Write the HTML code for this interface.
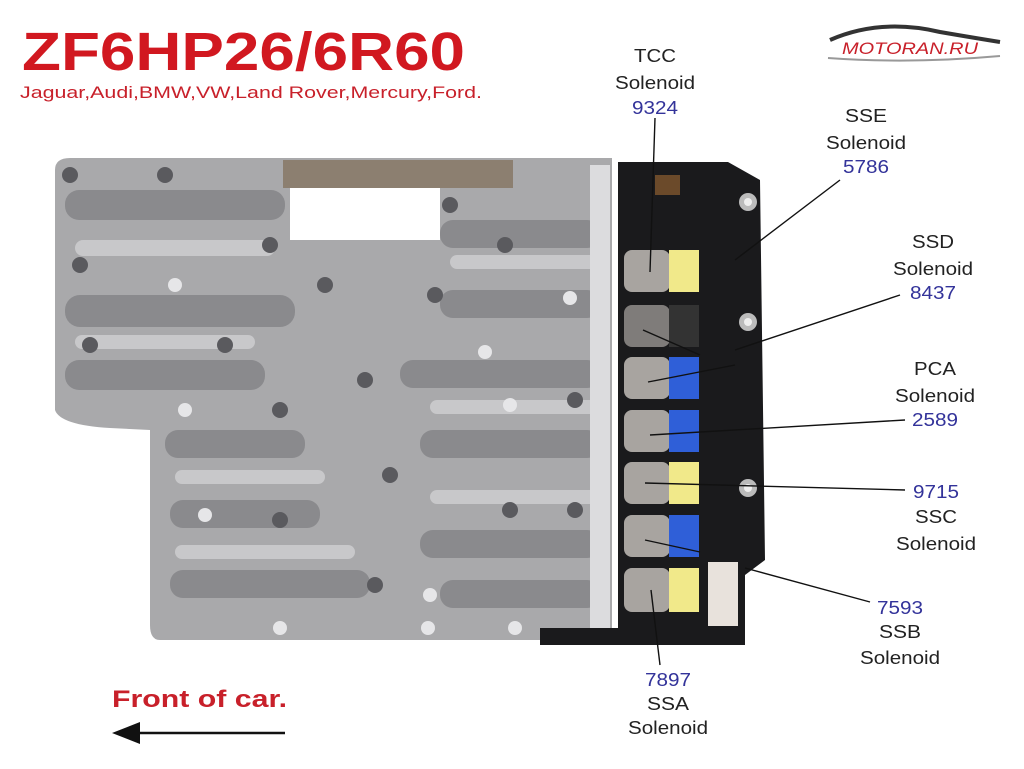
<!DOCTYPE html>
<html><head><meta charset="utf-8"><style>
html,body{margin:0;padding:0;background:#fff}
svg{display:block}
</style></head><body>
<svg width="1024" height="769" viewBox="0 0 1024 769" xmlns="http://www.w3.org/2000/svg" font-family="'Liberation Sans', Arial, Helvetica, sans-serif">
<rect width="1024" height="769" fill="#fff"/>
<text x="22" y="70" font-size="54" font-weight="bold" fill="#d11820" textLength="443" lengthAdjust="spacingAndGlyphs">ZF6HP26/6R60</text>
<text x="20" y="98" font-size="17" fill="#c8202a" textLength="462" lengthAdjust="spacingAndGlyphs">Jaguar,Audi,BMW,VW,Land Rover,Mercury,Ford.</text>
<path d="M830 40 Q880 18 940 32 Q975 38 1000 42" stroke="#333" stroke-width="4" fill="none"/>
<path d="M828 58 Q910 64 1000 56" stroke="#999" stroke-width="2" fill="none"/>
<text x="842" y="54" font-size="17" font-style="italic" fill="#c8202a" textLength="136" lengthAdjust="spacingAndGlyphs">MOTORAN.RU</text>
<path d="M55 170 Q55 158 70 158 L612 158 L612 640 L160 640 Q150 640 150 625 L150 430 L110 428 Q60 425 55 410 Z" fill="#a9a9ab"/>
<path d="M290 172 L440 172 L440 240 L290 240 Z" fill="#fff"/>
<rect x="283" y="160" width="230" height="28" fill="#8c7f70"/>
<g fill="#8a8a8d">
<rect x="65" y="190" width="220" height="30" rx="14"/>
<rect x="65" y="295" width="230" height="32" rx="15"/>
<rect x="65" y="360" width="200" height="30" rx="14"/>
<rect x="165" y="430" width="140" height="28" rx="13"/>
<rect x="170" y="500" width="150" height="28" rx="13"/>
<rect x="170" y="570" width="200" height="28" rx="13"/>
<rect x="440" y="220" width="160" height="28" rx="13"/>
<rect x="440" y="290" width="160" height="28" rx="13"/>
<rect x="400" y="360" width="200" height="28" rx="13"/>
<rect x="420" y="430" width="180" height="28" rx="13"/>
<rect x="420" y="530" width="180" height="28" rx="13"/>
<rect x="440" y="580" width="160" height="28" rx="13"/>
</g>
<g fill="#c8c8ca">
<rect x="75" y="240" width="200" height="16" rx="8"/>
<rect x="75" y="335" width="180" height="14" rx="7"/>
<rect x="175" y="470" width="150" height="14" rx="7"/>
<rect x="175" y="545" width="180" height="14" rx="7"/>
<rect x="450" y="255" width="150" height="14" rx="7"/>
<rect x="430" y="400" width="170" height="14" rx="7"/>
<rect x="430" y="490" width="170" height="14" rx="7"/>
<rect x="590" y="165" width="20" height="470" fill="#dcdcde"/>
</g>
<g fill="#5a5a5e">
<circle cx="70" cy="175" r="8"/><circle cx="165" cy="175" r="8"/><circle cx="270" cy="245" r="8"/><circle cx="325" cy="285" r="8"/>
<circle cx="80" cy="265" r="8"/><circle cx="225" cy="345" r="8"/><circle cx="280" cy="410" r="8"/><circle cx="365" cy="380" r="8"/>
<circle cx="435" cy="295" r="8"/><circle cx="505" cy="245" r="8"/><circle cx="575" cy="400" r="8"/><circle cx="390" cy="475" r="8"/>
<circle cx="510" cy="510" r="8"/><circle cx="575" cy="510" r="8"/><circle cx="280" cy="520" r="8"/><circle cx="375" cy="585" r="8"/>
<circle cx="450" cy="205" r="8"/><circle cx="90" cy="345" r="8"/>
</g>
<g fill="#e6e6e8">
<circle cx="175" cy="285" r="7"/><circle cx="185" cy="410" r="7"/><circle cx="485" cy="352" r="7"/><circle cx="510" cy="405" r="7"/>
<circle cx="205" cy="515" r="7"/><circle cx="280" cy="628" r="7"/><circle cx="428" cy="628" r="7"/><circle cx="515" cy="628" r="7"/>
<circle cx="570" cy="298" r="7"/><circle cx="430" cy="595" r="7"/>
</g>
<path d="M618 162 L728 162 L760 180 L765 560 L745 575 L745 645 L540 645 L540 628 L618 628 Z" fill="#1a1a1c"/>
<rect x="655" y="175" width="25" height="20" fill="#6b4a2a"/>
<circle cx="748" cy="202" r="9" fill="#bbb"/><circle cx="748" cy="202" r="4" fill="#eee"/>
<circle cx="748" cy="322" r="9" fill="#bbb"/><circle cx="748" cy="322" r="4" fill="#eee"/>
<circle cx="748" cy="488" r="9" fill="#bbb"/><circle cx="748" cy="488" r="4" fill="#eee"/>
<rect x="708" y="562" width="30" height="64" fill="#e8e2dc"/>
<g>
<rect x="624" y="250" width="46" height="42" rx="8" fill="#a8a4a0"/><rect x="669" y="250" width="30" height="42" fill="#f1e98a"/>
<rect x="624" y="305" width="46" height="42" rx="8" fill="#7f7c7a"/><rect x="669" y="305" width="30" height="42" fill="#333"/>
<rect x="624" y="357" width="46" height="42" rx="8" fill="#a8a4a0"/><rect x="669" y="357" width="30" height="42" fill="#2f5fd8"/>
<rect x="624" y="410" width="46" height="42" rx="8" fill="#a8a4a0"/><rect x="669" y="410" width="30" height="42" fill="#2f5fd8"/>
<rect x="624" y="462" width="46" height="42" rx="8" fill="#a8a4a0"/><rect x="669" y="462" width="30" height="42" fill="#f1e98a"/>
<rect x="624" y="515" width="46" height="42" rx="8" fill="#a8a4a0"/><rect x="669" y="515" width="30" height="42" fill="#2f5fd8"/>
<rect x="624" y="568" width="46" height="44" rx="8" fill="#a8a4a0"/><rect x="669" y="568" width="30" height="44" fill="#f1e98a"/>
</g>
<g stroke="#111" stroke-width="1.4" fill="none">
<line x1="655" y1="118" x2="650" y2="272"/>
<line x1="840" y1="180" x2="735" y2="260"/>
<line x1="900" y1="295" x2="735" y2="350"/>
<line x1="700" y1="355" x2="643" y2="330"/>
<line x1="735" y1="365" x2="648" y2="382"/>
<line x1="905" y1="420" x2="650" y2="435"/>
<line x1="905" y1="490" x2="645" y2="483"/>
<line x1="870" y1="602" x2="745" y2="568"/>
<line x1="700" y1="552" x2="645" y2="540"/>
<line x1="660" y1="665" x2="651" y2="590"/>
</g>
<g font-size="18" fill="#222" text-anchor="middle">
<text x="655" y="62" textLength="42" lengthAdjust="spacingAndGlyphs">TCC</text><text x="655" y="89" textLength="80" lengthAdjust="spacingAndGlyphs">Solenoid</text><text x="655" y="114" fill="#33339a" textLength="46" lengthAdjust="spacingAndGlyphs">9324</text>
<text x="866" y="122" textLength="42" lengthAdjust="spacingAndGlyphs">SSE</text><text x="866" y="149" textLength="80" lengthAdjust="spacingAndGlyphs">Solenoid</text><text x="866" y="173" fill="#33339a" textLength="46" lengthAdjust="spacingAndGlyphs">5786</text>
<text x="933" y="248" textLength="42" lengthAdjust="spacingAndGlyphs">SSD</text><text x="933" y="275" textLength="80" lengthAdjust="spacingAndGlyphs">Solenoid</text><text x="933" y="299" fill="#33339a" textLength="46" lengthAdjust="spacingAndGlyphs">8437</text>
<text x="935" y="375" textLength="42" lengthAdjust="spacingAndGlyphs">PCA</text><text x="935" y="402" textLength="80" lengthAdjust="spacingAndGlyphs">Solenoid</text><text x="935" y="426" fill="#33339a" textLength="46" lengthAdjust="spacingAndGlyphs">2589</text>
<text x="936" y="498" fill="#33339a" textLength="46" lengthAdjust="spacingAndGlyphs">9715</text><text x="936" y="523" textLength="42" lengthAdjust="spacingAndGlyphs">SSC</text><text x="936" y="550" textLength="80" lengthAdjust="spacingAndGlyphs">Solenoid</text>
<text x="900" y="614" fill="#33339a" textLength="46" lengthAdjust="spacingAndGlyphs">7593</text><text x="900" y="638" textLength="42" lengthAdjust="spacingAndGlyphs">SSB</text><text x="900" y="664" textLength="80" lengthAdjust="spacingAndGlyphs">Solenoid</text>
<text x="668" y="686" fill="#33339a" textLength="46" lengthAdjust="spacingAndGlyphs">7897</text><text x="668" y="710" textLength="42" lengthAdjust="spacingAndGlyphs">SSA</text><text x="668" y="734" textLength="80" lengthAdjust="spacingAndGlyphs">Solenoid</text>
</g>
<text x="112" y="707" font-size="24" font-weight="bold" fill="#c8202a" textLength="175" lengthAdjust="spacingAndGlyphs">Front of car.</text>
<line x1="135" y1="733" x2="285" y2="733" stroke="#111" stroke-width="2.5"/>
<polygon points="112,733 140,722 140,744" fill="#111"/>
</svg>
</body></html>
